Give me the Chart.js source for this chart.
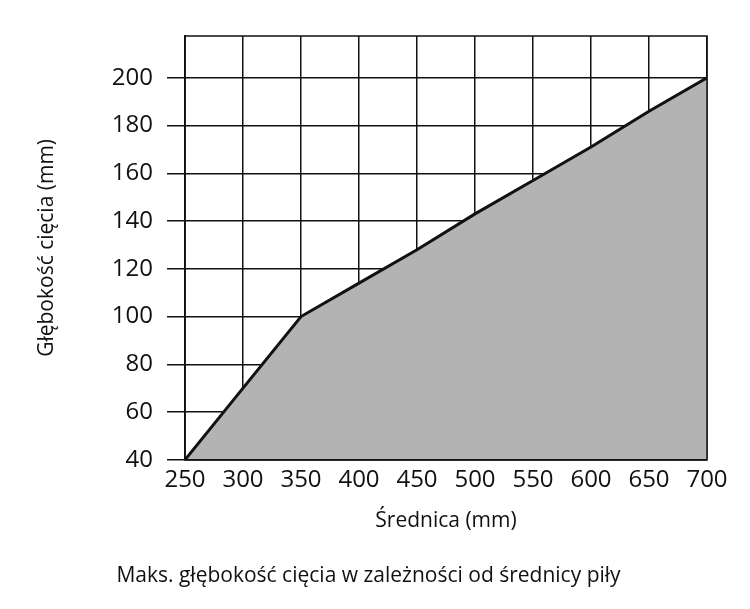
<!DOCTYPE html>
<html>
<head>
<meta charset="utf-8">
<script src="https://cdn.jsdelivr.net/npm/chart.js@4"></script>
<style>
  body { margin: 0; background: #fff; }
  #wrap { width: 750px; height: 609px; }
</style>
</head>
<body>
<div id="wrap"><canvas id="c"></canvas></div>
<script>
const diameters = [250, 300, 350, 400, 450, 500, 550, 600, 650, 700];
const depths = [40, 70, 100, 114, 128, 143, 157, 171, 186, 200];
const yTicks = [40, 60, 80, 100, 120, 140, 160, 180, 200];

// top and right border of the plot
const frame = {
  id: 'frame',
  afterDraw(chart) {
    const a = chart.chartArea, ctx = chart.ctx;
    ctx.save();
    ctx.strokeStyle = '#111';
    ctx.lineWidth = 1.5;
    ctx.strokeRect(a.left, a.top, a.right - a.left, a.bottom - a.top);
    ctx.restore();
  }
};

Chart.defaults.font.family = 'Open Sans';
Chart.defaults.color = '#111';

new Chart(document.getElementById('c'), {
  type: 'line',
  data: {
    datasets: [{
      data: diameters.map((d, i) => ({ x: d, y: depths[i] })),
      borderColor: '#111',
      borderWidth: 3,
      backgroundColor: '#b3b3b3',
      fill: 'origin',
      pointRadius: 0,
      tension: 0
    }]
  },
  options: {
    responsive: true,
    maintainAspectRatio: false,
    animation: false,
    layout: { padding: { top: 36, right: 43, left: 30, bottom: 20 } },
    plugins: {
      legend: { display: false },
      tooltip: { enabled: false },
      title: {
        display: true,
        position: 'bottom',
        text: 'Maks. głębokość cięcia w zależności od średnicy piły',
        font: { size: 21, weight: 'normal' },
        padding: { top: 26, bottom: 0 }
      }
    },
    scales: {
      x: {
        type: 'linear',
        min: 250, max: 700,
        ticks: { stepSize: 50, font: { size: 24 }, padding: 6 },
        grid: { color: '#111', lineWidth: 1.5, drawTicks: false },
        border: { color: '#111', width: 1.5 },
        title: { display: true, text: 'Średnica (mm)', font: { size: 21 }, padding: { top: 8 } }
      },
      y: {
        min: 40, max: 217.5,
        afterBuildTicks: s => { s.ticks = yTicks.map(v => ({ value: v })); },
        afterFit: s => { s.width = 155; },
        ticks: { font: { size: 24 }, padding: 14 },
        grid: { color: '#111', lineWidth: 1.5, tickLength: 18 },
        border: { color: '#111', width: 1.5 },
        title: { display: true, text: 'Głębokość cięcia (mm)', font: { size: 21 }, padding: { bottom: 10 } }
      }
    }
  },
  plugins: [frame]
});
</script>
</body>
</html>
